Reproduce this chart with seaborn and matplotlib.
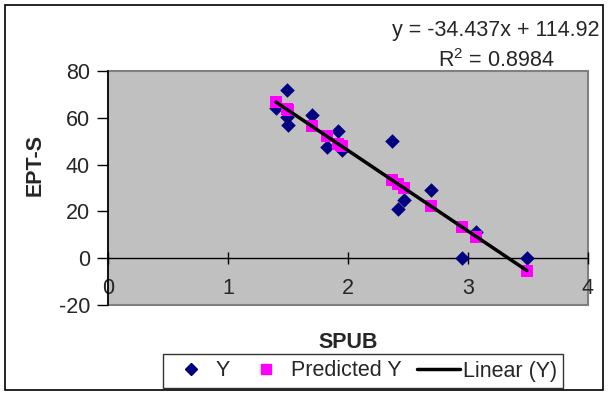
import matplotlib
matplotlib.use("Agg")
import matplotlib.pyplot as plt
import seaborn as sns
import pandas as pd
from matplotlib.patches import Rectangle
from matplotlib.lines import Line2D

spub = [1.40, 1.49, 1.49, 1.50, 1.70, 1.825, 1.92, 1.95, 2.37, 2.42, 2.47, 2.69, 2.95, 3.07, 3.49]
ept_s = [64.4, 72.0, 60.4, 57.1, 61.4, 47.7, 54.4, 46.4, 49.9, 21.2, 24.8, 29.3, 0.0, 11.0, 0.0]
predicted = [66.71, 63.61, 63.61, 63.26, 56.38, 52.07, 48.80, 47.77, 33.30, 31.58, 29.86, 22.28, 13.33, 9.20, -5.27]
line_x = [1.40, 3.49]
line_y = [66.71, -5.27]
x_ticks = [0, 1, 2, 3, 4]
y_ticks = [-20, 0, 20, 40, 60, 80]
equation_text = "y = -34.437x + 114.92\nR$^2$ = 0.8984"

sns.set_style("white")
plt.rcParams['font.family'] = ['Liberation Sans', 'DejaVu Sans']
plt.rcParams['mathtext.fontset'] = 'custom'
plt.rcParams['mathtext.rm'] = 'Liberation Sans'

FS = 15.5

df = pd.DataFrame({"SPUB": spub, "Y": ept_s, "Pred": predicted})
dline = pd.DataFrame({"x": line_x, "y": line_y})

fig = plt.figure(figsize=(6.09, 3.95), dpi=100)
ax = fig.add_axes([108/609, 1-305/395, 480/609, 234/395])
ax.set_facecolor('#C0C0C0')
ax.patch.set_edgecolor('#808080')
ax.patch.set_linewidth(1.5)

sns.scatterplot(data=df, x="SPUB", y="Y", marker='D', color='#000080', s=55,
                edgecolor='#000080', linewidth=0, ax=ax, zorder=3)
sns.scatterplot(data=df, x="SPUB", y="Pred", marker='s', color='#FF00FF', s=75,
                edgecolor='#FF00FF', linewidth=0, ax=ax, zorder=4)
sns.lineplot(data=dline, x="x", y="y", color='black', linewidth=2.5, ax=ax, zorder=5)

ax.set_xlim(0, 4)
ax.set_ylim(-20, 80)
ax.set_xticks(x_ticks)
ax.set_yticks(y_ticks)
ax.set_xticklabels([str(v) for v in x_ticks])
ax.set_yticklabels([str(v) for v in y_ticks])

for s in ['top', 'right']:
    ax.spines[s].set_visible(False)
ax.spines['left'].set_color('black')
ax.spines['left'].set_linewidth(1.2)
ax.spines['bottom'].set_position(('data', 0))
ax.spines['bottom'].set_color('black')
ax.spines['bottom'].set_linewidth(1.0)

ax.tick_params(axis='y', direction='out', length=8, width=1, color='black',
               labelsize=FS, pad=5, left=True)
ax.tick_params(axis='x', direction='inout', length=9, width=1, color='black',
               labelsize=FS, pad=10, bottom=True)
for lbl in ax.get_xticklabels():
    lbl.set_clip_on(False)

ax.set_xlabel("")
ax.set_ylabel("")
fig.text(348/609, 1-342/395, "SPUB", ha='center', va='center', fontsize=FS, fontweight='bold')
fig.text(35/609, 1-165/395, "EPT-S", ha='center', va='center', rotation=90, fontsize=FS, fontweight='bold')
fig.text(496/609, 1-46/395, equation_text, ha='center', va='center', fontsize=FS,
         multialignment='center', linespacing=1.45)

handles = [Line2D([], [], marker='D', color='#000080', linestyle='none', markersize=6),
           Line2D([], [], marker='s', color='#FF00FF', linestyle='none', markersize=7),
           Line2D([], [], color='black', linewidth=2.5)]
leg = fig.legend(handles, ["Y", "Predicted Y", "Linear (Y)"], ncol=3,
                 loc='center', bbox_to_anchor=(363/609, 1-371/395), frameon=True,
                 fancybox=False, edgecolor='black', fontsize=FS, handlelength=2.0,
                 columnspacing=0.7, handletextpad=0.15, borderpad=0.3)
leg.get_frame().set_linewidth(1)

fig.patches.append(Rectangle((5/609, 5/395), 598/609, 385/395, transform=fig.transFigure,
                             fill=False, edgecolor='black', linewidth=1.2))

fig.savefig("out.png", dpi=100)
